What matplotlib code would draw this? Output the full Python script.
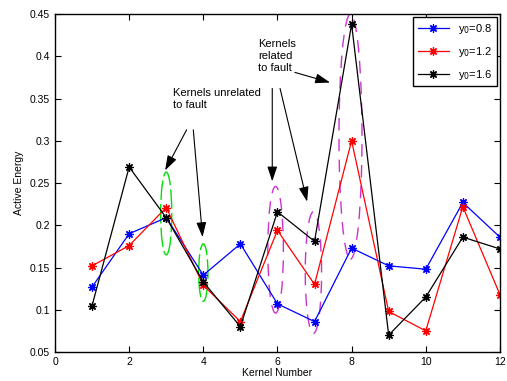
import numpy as np
import matplotlib
matplotlib.use("Agg")
import matplotlib.pyplot as plt
from matplotlib.patches import Ellipse

plt.rcParams['font.family'] = ['Liberation Sans', 'DejaVu Sans']

kernels = np.arange(1, 13)
y08 = [0.127, 0.190, 0.209, 0.141, 0.178, 0.107, 0.086, 0.173, 0.152, 0.148, 0.227, 0.186]
y12 = [0.152, 0.176, 0.221, 0.129, 0.086, 0.194, 0.130, 0.300, 0.098, 0.075, 0.222, 0.118]
y16 = [0.105, 0.269, 0.209, 0.133, 0.080, 0.216, 0.181, 0.438, 0.070, 0.115, 0.186, 0.172]
labels = ['y$_0$=0.8', 'y$_0$=1.2', 'y$_0$=1.6']

fig = plt.figure(figsize=(5.07, 3.81), dpi=100)
ax = fig.add_axes([0.1085, 0.0761, 0.8775, 0.8869])

mk = dict(marker=(8, 2, 0), markersize=6, linewidth=0.9, markeredgewidth=0.9)
ax.plot(kernels, y08, color='blue', label=labels[0], **mk)
ax.plot(kernels, y12, color='red', label=labels[1], **mk)
ax.plot(kernels, y16, color='black', label=labels[2], **mk)

# ellipses around kernels
for cx, cy, w, h in [(3.0, 0.214, 0.3, 0.098), (4.0, 0.144, 0.25, 0.068)]:
    ax.add_patch(Ellipse((cx, cy), w, h, fill=False, edgecolor='#00e000',
                         linewidth=1.0, linestyle=(0, (14, 3))))
for cx, cy, w, h in [(5.95, 0.171, 0.42, 0.15), (6.97, 0.144, 0.44, 0.144),
                     (7.97, 0.305, 0.62, 0.29)]:
    ax.add_patch(Ellipse((cx, cy), w, h, fill=False, edgecolor='#cc33cc',
                         linewidth=1.0, linestyle=(0, (9, 6))))

ap = dict(arrowstyle='-|>,head_length=0.9,head_width=0.3', color='black',
          linewidth=0.8, shrinkA=0, shrinkB=0)
ax.text(3.18, 0.362, 'Kernels unrelated\nto fault', fontsize=8, va='top', ha='left')
ax.annotate('', xy=(2.97, 0.265), xytext=(3.55, 0.313), arrowprops=ap)
ax.annotate('', xy=(3.98, 0.186), xytext=(3.73, 0.313), arrowprops=ap)

ax.text(5.47, 0.42, 'Kernels\nrelated\nto fault', fontsize=8, va='top', ha='left')
ax.annotate('', xy=(7.42, 0.369), xytext=(6.47, 0.381), arrowprops=ap)
ax.annotate('', xy=(5.86, 0.252), xytext=(5.86, 0.362), arrowprops=ap)
ax.annotate('', xy=(6.80, 0.228), xytext=(6.07, 0.362), arrowprops=ap)

ax.set_xlim(0, 12)
ax.set_ylim(0.05, 0.45)
ax.set_xticks(range(0, 13, 2))
ax.set_yticks(np.arange(0.05, 0.451, 0.05))
ax.set_yticklabels(['0.05', '0.1', '0.15', '0.2', '0.25', '0.3', '0.35', '0.4', '0.45'])
ax.tick_params(direction='in', top=True, right=True, labelsize=7.5, length=4, width=0.8)
for s in ax.spines.values():
    s.set_linewidth(1.0)
ax.set_xlabel('Kernel Number', fontsize=7.5, labelpad=1)
ax.set_ylabel('Active Energy', fontsize=7.5, labelpad=4)

leg = ax.legend(loc='upper right', fontsize=8, fancybox=False, edgecolor='black',
                handlelength=2.8, borderaxespad=0.3, labelspacing=0.8, framealpha=1)
leg.get_frame().set_linewidth(1.0)

fig.savefig('out.png', dpi=100)
